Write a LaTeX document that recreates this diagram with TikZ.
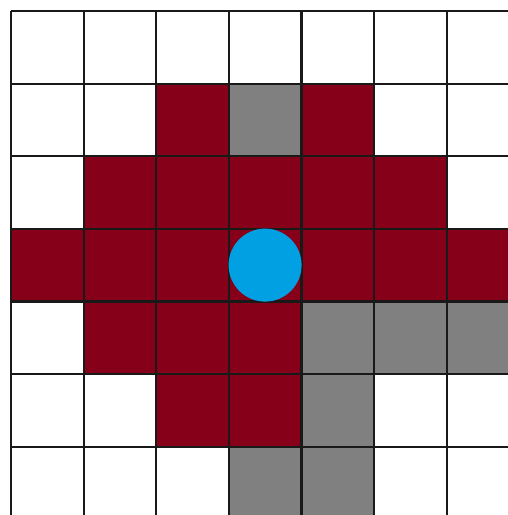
\documentclass[tikz,border=0pt]{standalone}
\definecolor{cellred}{RGB}{133,0,24}
\definecolor{cellgray}{RGB}{128,128,128}
\definecolor{dotblue}{RGB}{0,160,227}
\tikzset{gridline/.style={draw=black!90,line width=2.2pt}}
\begin{document}
\begin{tikzpicture}[x=1pt,y=-1pt]
\useasboundingbox (0,0) rectangle (508,515);
\clip (0,0) rectangle (508,515);
\def\cs{72.6}
\def\ox{11}
% red cells (row/col)
\foreach \r/\c in {1/2,1/4,2/1,2/2,2/3,2/4,2/5,3/0,3/1,3/2,3/3,3/4,3/5,3/6,4/1,4/2,4/3,5/2,5/3}
  \fill[cellred] ({\ox+\c*\cs},{\ox+\r*\cs}) rectangle +(\cs,\cs);
% gray cells
\foreach \r/\c in {1/3,4/4,4/5,4/6,5/4,6/3,6/4}
  \fill[cellgray] ({\ox+\c*\cs},{\ox+\r*\cs}) rectangle +(\cs,\cs);
% grid
\foreach \i in {0,...,7} {
  \draw[gridline] ({\ox+\i*\cs},{\ox}) -- ({\ox+\i*\cs},{\ox+7*\cs});
  \draw[gridline] ({\ox},{\ox+\i*\cs}) -- ({\ox+7*\cs},{\ox+\i*\cs});
}
% agent
\node[circle,fill=dotblue,minimum size=73pt,inner sep=0pt] (agent) at ({\ox+3.5*\cs},{\ox+3.5*\cs}) {};
\end{tikzpicture}
\end{document}
